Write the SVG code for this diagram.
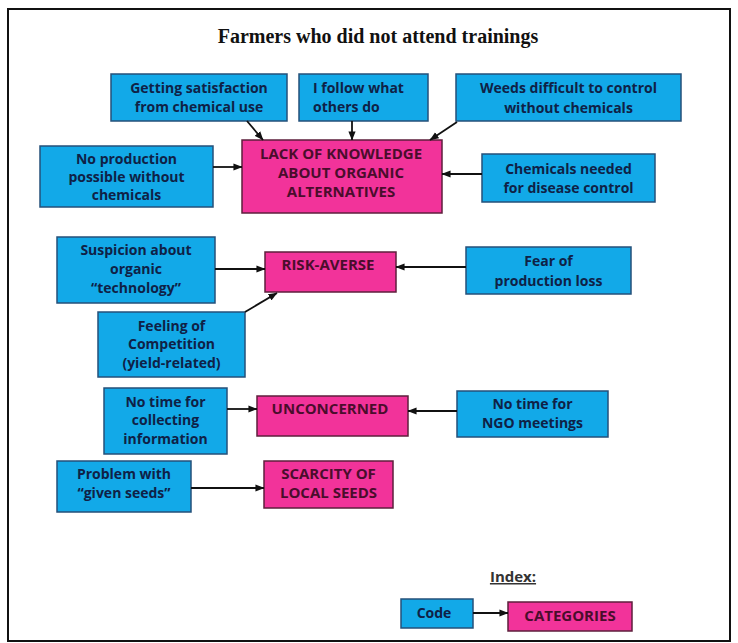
<svg xmlns="http://www.w3.org/2000/svg" width="738" height="643" viewBox="0 0 738 643">
<defs>
<marker id="ah" viewBox="0 0 10 10" refX="9.5" refY="5" markerWidth="9" markerHeight="8" orient="auto" markerUnits="userSpaceOnUse" preserveAspectRatio="none">
<path d="M0,0.5 L10,5 L0,9.5 z" fill="#111"/>
</marker>
<style>
.code{fill:#12a9e8;stroke:#24507a;stroke-width:1.5}
.cat{fill:#f2339a;stroke:#5e1f3c;stroke-width:1.5}
.ct{font-family:"Open Sans",Lato,sans-serif;font-weight:bold;font-size:14px;fill:#0f2146;text-anchor:middle}
.kt{font-family:"Open Sans",Lato,sans-serif;font-weight:bold;font-size:15px;fill:#4a0d2c;text-anchor:middle}
.ln{stroke:#111;stroke-width:1.8;fill:none;marker-end:url(#ah)}
</style>
</defs>
<rect x="0" y="0" width="738" height="643" fill="#fff"/>
<rect x="8" y="9" width="722" height="632" fill="none" stroke="#111" stroke-width="2"/>
<text x="378" y="43" font-family="Liberation Serif,serif" font-weight="bold" font-size="20" text-anchor="middle" fill="#111">Farmers who did not attend trainings</text>

<g id="n-getting"><rect class="code" x="111" y="74" width="176" height="47"/><text class="ct" x="199" y="93">Getting satisfaction</text><text class="ct" x="199" y="112">from chemical use</text></g>
<g id="n-follow"><rect class="code" x="299" y="74" width="129" height="47"/><text class="ct" x="313" y="93" style="text-anchor:start">I follow what</text><text class="ct" x="313" y="112" style="text-anchor:start">others do</text></g>
<g id="n-weeds"><rect class="code" x="456" y="74" width="225" height="47"/><text class="ct" x="568.5" y="93">Weeds difficult to control</text><text class="ct" x="568.5" y="113">without chemicals</text></g>
<g id="n-noprod"><rect class="code" x="40" y="146" width="173" height="61"/><text class="ct" x="126.5" y="164">No production</text><text class="ct" x="126.5" y="182">possible without</text><text class="ct" x="126.5" y="200">chemicals</text></g>
<g id="n-lack"><rect class="cat" x="242" y="140" width="200" height="73"/><text class="kt" x="341" y="159">LACK OF KNOWLEDGE</text><text class="kt" x="341" y="178">ABOUT ORGANIC</text><text class="kt" x="341" y="197">ALTERNATIVES</text></g>
<g id="n-chem"><rect class="code" x="482" y="154" width="173" height="48"/><text class="ct" x="568.5" y="174">Chemicals needed</text><text class="ct" x="568.5" y="193">for disease control</text></g>

<g id="n-susp"><rect class="code" x="57" y="237" width="158" height="66"/><text class="ct" x="136" y="255">Suspicion about</text><text class="ct" x="136" y="274">organic</text><text class="ct" x="136" y="293">“technology”</text></g>
<g id="n-risk"><rect class="cat" x="265" y="252" width="131" height="40"/><text class="kt" x="328" y="270">RISK-AVERSE</text></g>
<g id="n-fear"><rect class="code" x="466" y="247" width="165" height="47"/><text class="ct" x="548.5" y="266">Fear of</text><text class="ct" x="548.5" y="286">production loss</text></g>
<g id="n-feel"><rect class="code" x="98" y="312" width="147" height="65"/><text class="ct" x="171.5" y="331">Feeling of</text><text class="ct" x="171.5" y="349">Competition</text><text class="ct" x="171.5" y="368">(yield-related)</text></g>

<g id="n-notime"><rect class="code" x="104" y="388" width="123" height="66"/><text class="ct" x="165.5" y="407">No time for</text><text class="ct" x="165.5" y="425">collecting</text><text class="ct" x="165.5" y="444">information</text></g>
<g id="n-uncon"><rect class="cat" x="257" y="396" width="151" height="40"/><text class="kt" x="330" y="414">UNCONCERNED</text></g>
<g id="n-ngo"><rect class="code" x="457" y="391" width="151" height="46"/><text class="ct" x="532.5" y="409">No time for</text><text class="ct" x="532.5" y="428">NGO meetings</text></g>

<g id="n-problem"><rect class="code" x="57" y="461" width="134" height="51"/><text class="ct" x="124" y="479">Problem with</text><text class="ct" x="124" y="498">“given seeds”</text></g>
<g id="n-scarcity"><rect class="cat" x="264" y="461" width="129" height="47"/><text class="kt" x="328.5" y="479">SCARCITY OF</text><text class="kt" x="328.5" y="498">LOCAL SEEDS</text></g>

<g id="index">
<text x="513" y="582" font-family="Open Sans,sans-serif" font-weight="bold" font-size="15" fill="#333" text-anchor="middle" text-decoration="underline">Index:</text>
<g id="n-code"><rect class="code" x="401" y="599" width="72" height="29"/><text class="ct" x="434" y="618">Code</text></g>
<g id="n-categories"><rect class="cat" x="508" y="602" width="124" height="29"/><text class="kt" x="570" y="621">CATEGORIES</text></g>
</g>

<g id="connectors">
<path class="ln" d="M247,121 L263,140"/>
<path class="ln" d="M352,121 L352,140"/>
<path class="ln" d="M457,122 L430,140"/>
<path class="ln" d="M213,167 L242,167"/>
<path class="ln" d="M482,174 L442,174"/>
<path class="ln" d="M215,269 L265,269"/>
<path class="ln" d="M466,267 L396,267"/>
<path class="ln" d="M245,312 L277,293"/>
<path class="ln" d="M227,409 L257,409"/>
<path class="ln" d="M457,411 L408,411"/>
<path class="ln" d="M191,488 L264,488"/>
<path class="ln" d="M473,613 L508,613"/>
</g>
</svg>
